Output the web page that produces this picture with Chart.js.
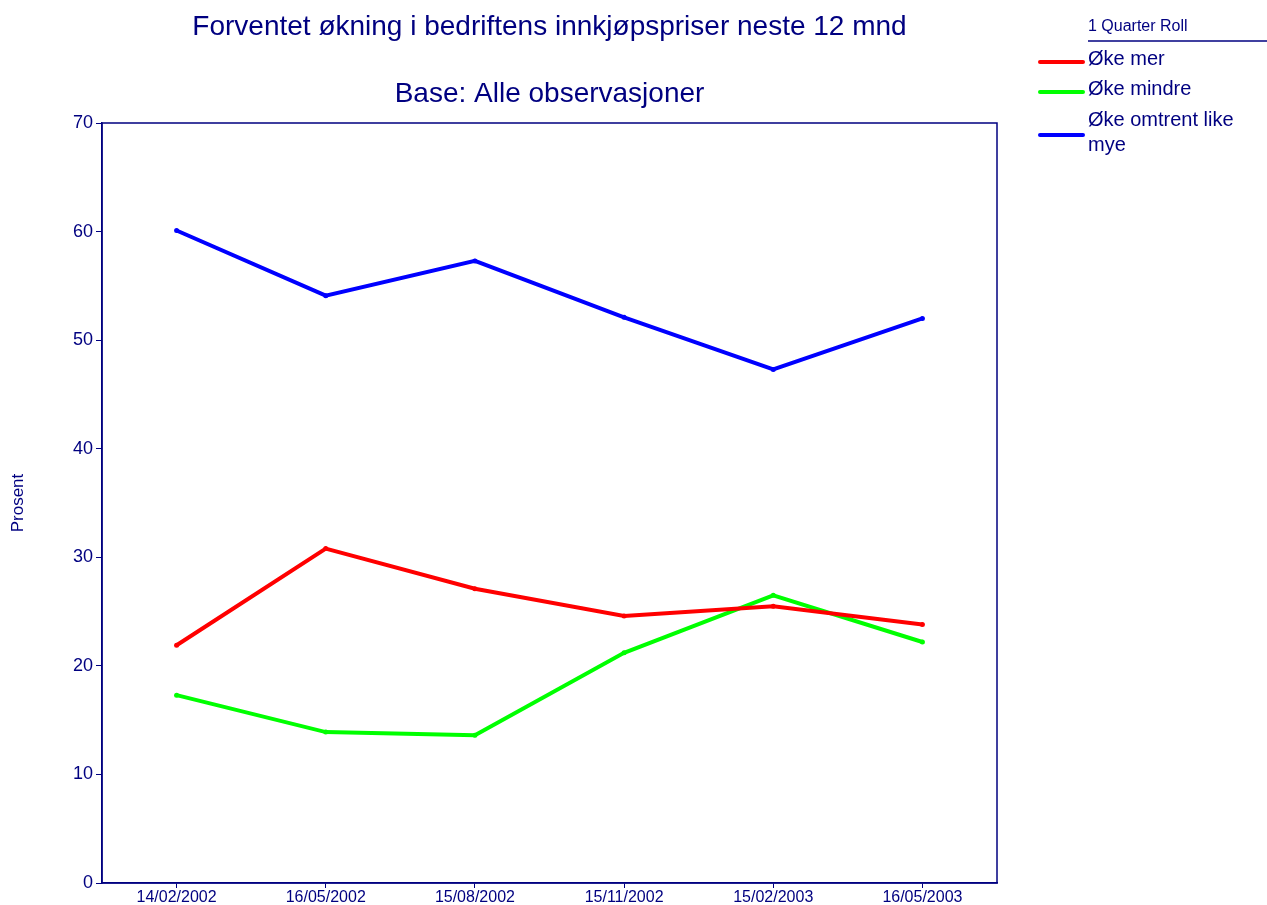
<!DOCTYPE html>
<html>
<head>
<meta charset="utf-8">
<script src="https://cdn.jsdelivr.net/npm/chart.js@4/dist/chart.umd.min.js"></script>
<style>
  html, body { margin: 0; padding: 0; background: #fff; }
  #wrap { width: 1267px; height: 905px; }
</style>
</head>
<body>
<div id="wrap"><canvas id="chart" width="1267" height="905"></canvas></div>
<script>
const labels = ['14/02/2002', '16/05/2002', '15/08/2002', '15/11/2002', '15/02/2003', '16/05/2003'];
const okeMer = [21.9, 30.8, 27.1, 24.6, 25.5, 23.8];
const okeMindre = [17.3, 13.9, 13.6, 21.2, 26.5, 22.2];
const okeOmtrent = [60.1, 54.1, 57.3, 52.1, 47.3, 52.0];
const yTicks = [0, 10, 20, 30, 40, 50, 60, 70];

const navy = '#000080';
const font = '"Liberation Sans", Arial, sans-serif';

const decorations = {
    id: 'decorations',
    afterDraw(chart) {
        const ctx = chart.ctx;
        const a = chart.chartArea;
        ctx.save();
        // plot frame
        ctx.strokeStyle = navy;
        ctx.lineWidth = 1.5;
        ctx.strokeRect(a.left, a.top, a.right - a.left, a.bottom - a.top);

        // titles
        const cx = (a.left + a.right) / 2;
        ctx.fillStyle = navy;
        ctx.textAlign = 'center';
        ctx.textBaseline = 'middle';
        ctx.font = '28px ' + font;
        ctx.fillText('Forventet økning i bedriftens innkjøpspriser neste 12 mnd', cx, 27);
        ctx.fillText('Base: Alle observasjoner', cx, 94);

        // y axis title
        ctx.save();
        ctx.translate(18, (a.top + a.bottom) / 2);
        ctx.rotate(-Math.PI / 2);
        ctx.font = '17px ' + font;
        ctx.fillText('Prosent', 0, 0);
        ctx.restore();

        // legend
        ctx.textAlign = 'left';
        ctx.font = '16px ' + font;
        ctx.fillText('1 Quarter Roll', 1088, 27);
        ctx.lineWidth = 1.5;
        ctx.beginPath();
        ctx.moveTo(1088, 41);
        ctx.lineTo(1267, 41);
        ctx.stroke();

        const rows = [
            { lines: ['Øke mer'], y: 59, lineY: 62 },
            { lines: ['Øke mindre'], y: 89, lineY: 92 },
            { lines: ['Øke omtrent like', 'mye'], y: 120, lineY: 135 }
        ];
        ctx.font = '20px ' + font;
        chart.data.datasets.forEach((ds, i) => {
            const r = rows[i];
            ctx.strokeStyle = ds.borderColor;
            ctx.lineWidth = 4;
            ctx.lineCap = 'round';
            ctx.beginPath();
            ctx.moveTo(1040, r.lineY);
            ctx.lineTo(1083, r.lineY);
            ctx.stroke();
            ctx.fillStyle = navy;
            r.lines.forEach((t, k) => ctx.fillText(t, 1088, r.y + k * 25));
        });
        ctx.restore();
    }
};

const mkSet = (label, data, color) => ({
    label: label,
    data: data,
    borderColor: color,
    backgroundColor: color,
    borderWidth: 4,
    pointRadius: 2.5,
    pointHoverRadius: 2.5,
    pointBorderWidth: 0,
    tension: 0,
    fill: false
});

new Chart(document.getElementById('chart').getContext('2d'), {
    type: 'line',
    data: {
        labels: labels,
        datasets: [
            mkSet('Øke mer', okeMer, '#ff0000'),
            mkSet('Øke mindre', okeMindre, '#00ff00'),
            mkSet('Øke omtrent like mye', okeOmtrent, '#0000ff')
        ]
    },
    options: {
        responsive: false,
        animation: false,
        layout: { padding: { left: 0, top: 123, right: 270, bottom: 0 } },
        plugins: {
            legend: { display: false },
            title: { display: false },
            tooltip: { enabled: false }
        },
        scales: {
            x: {
                offset: true,
                afterFit: (s) => { s.height = 22; },
                grid: { drawOnChartArea: false, offset: false, tickLength: 5, tickColor: navy },
                border: { color: navy, width: 1.5 },
                ticks: { color: navy, font: { family: font, size: 16 }, padding: 0, maxRotation: 0 }
            },
            y: {
                min: 0,
                max: 70,
                afterFit: (s) => { s.width = 102; },
                afterBuildTicks: (s) => { s.ticks = yTicks.map(v => ({ value: v })); },
                grid: { drawOnChartArea: false, tickLength: 6, tickColor: navy },
                border: { color: navy, width: 1.5 },
                ticks: { color: navy, font: { family: font, size: 18 }, padding: 3 }
            }
        }
    },
    plugins: [decorations]
});
</script>
</body>
</html>
